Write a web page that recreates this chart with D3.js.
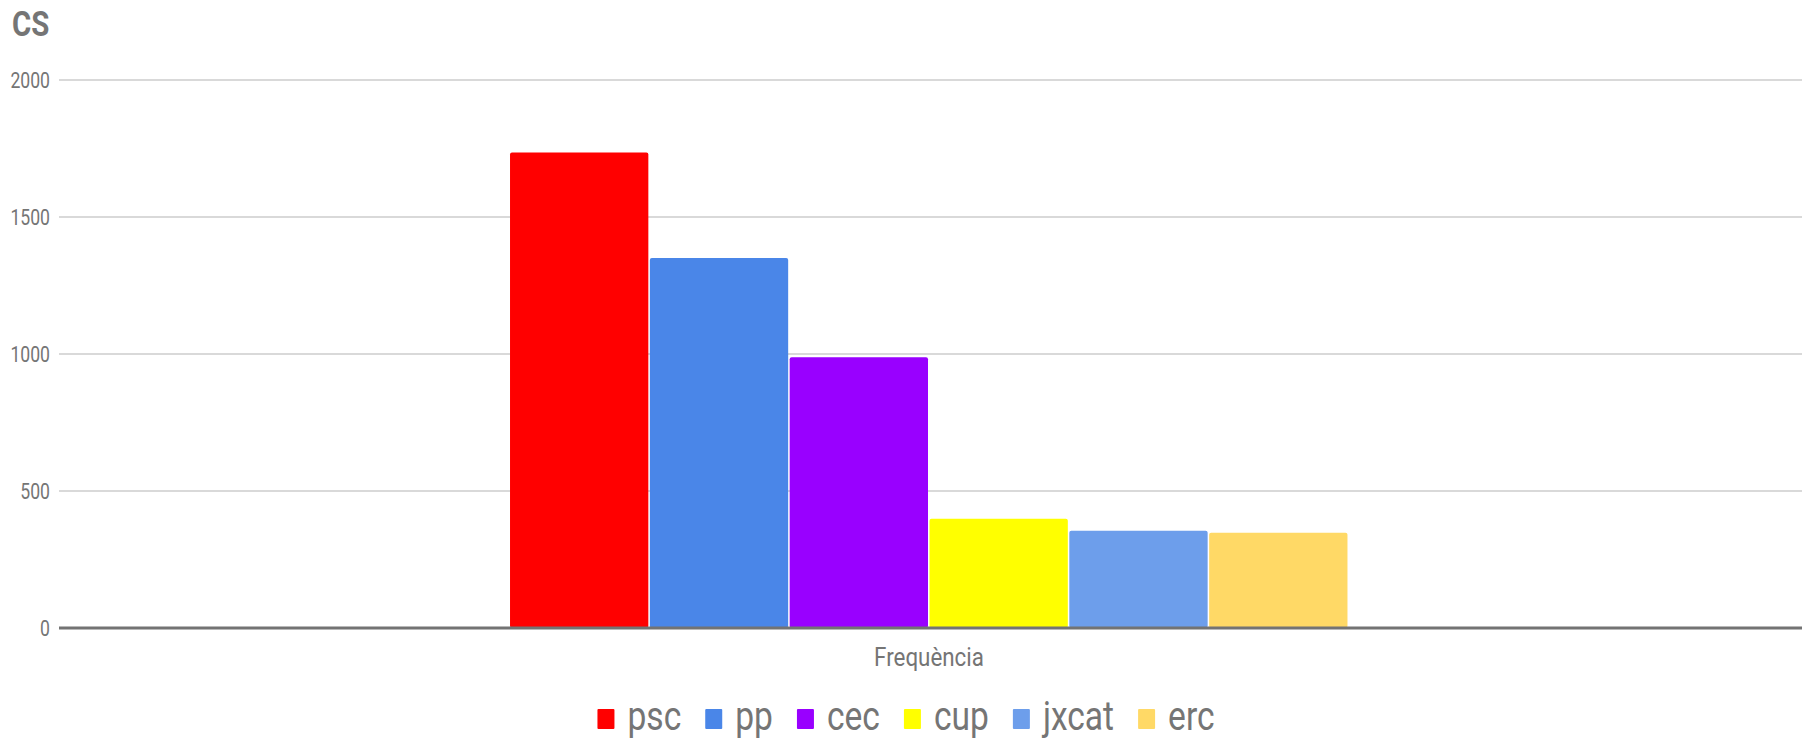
<!DOCTYPE html>
<html>
<head>
<meta charset="utf-8">
<script src="https://cdn.jsdelivr.net/npm/d3@7"></script>
<style>
  html, body { margin: 0; padding: 0; background: #fff; }
  svg { display: block; font-family: Roboto, "Noto Sans", sans-serif; }
</style>
</head>
<body>
<div id="chart"></div>
<script>
// Chart data
const title = "CS";
const categories = ["Frequència"];
const parties = ["psc", "pp", "cec", "cup", "jxcat", "erc"];
const partyValues = [1735, 1350, 988, 399, 355, 348];
const partyColors = ["#ff0000", "#4a86e8", "#9900ff", "#ffff00", "#6d9eeb", "#ffd966"];
const yTicks = [0, 500, 1000, 1500, 2000];

const W = 1802, H = 740;
const margin = { top: 80, right: 3, bottom: 112, left: 59 };

const svg = d3.select("#chart").append("svg")
    .attr("width", W)
    .attr("height", H);

// small helper: squeeze text horizontally like the original render
function squeeze(sel, x, y, sx) {
    sel.attr("transform", `translate(${x},${y}) scale(${sx},1)`);
    return sel;
}

const y = d3.scaleLinear()
    .domain([0, 2000])
    .range([H - margin.bottom, margin.top]);

const x0 = d3.scaleBand()
    .domain(categories)
    .range([margin.left, W - margin.right])
    .paddingInner(0)
    .paddingOuter(0.537);

const x1 = d3.scaleBand()
    .domain(parties)
    .range([0, x0.bandwidth()]);

// gridlines (run to the right edge)
svg.append("g")
    .selectAll("line")
    .data(yTicks.filter(d => d !== 0))
    .enter().append("line")
    .attr("x1", margin.left)
    .attr("x2", W)
    .attr("y1", d => y(d))
    .attr("y2", d => y(d))
    .attr("stroke", "#d9d9d9")
    .attr("stroke-width", 2);

// y tick labels
svg.append("g")
    .selectAll("text")
    .data(yTicks)
    .enter().append("text")
    .each(function(d) {
        squeeze(d3.select(this), 50, y(d) + 8, 0.8);
    })
    .attr("text-anchor", "end")
    .style("font-size", "22px")
    .style("fill", "#757575")
    .text(d => d);

// bars
const group = svg.append("g")
    .selectAll("g")
    .data(categories)
    .enter().append("g")
    .attr("transform", d => `translate(${x0(d)},0)`);

group.selectAll("rect")
    .data(parties.map((p, i) => ({ party: p, value: partyValues[i], color: partyColors[i] })))
    .enter().append("rect")
    .attr("x", d => x1(d.party) + 0.5)
    .attr("y", d => y(d.value))
    .attr("width", x1.bandwidth() - 1.5)
    .attr("height", d => y(0) - y(d.value))
    .attr("rx", 2)
    .attr("fill", d => d.color);

// baseline
svg.append("line")
    .attr("x1", margin.left)
    .attr("x2", W)
    .attr("y1", y(0))
    .attr("y2", y(0))
    .attr("stroke", "#737373")
    .attr("stroke-width", 3);

// category label
svg.append("g")
    .selectAll("text")
    .data(categories)
    .enter().append("text")
    .each(function(d) {
        squeeze(d3.select(this), x0(d) + x0.bandwidth() / 2, 666, 0.86);
    })
    .attr("text-anchor", "middle")
    .style("font-size", "26px")
    .style("fill", "#757575")
    .text(d => d);

// title
squeeze(svg.append("text"), 12, 36, 0.84)
    .style("font-size", "35px")
    .style("font-weight", "bold")
    .style("fill", "#757575")
    .text(title);

// legend
const legend = svg.append("g");
const legendSx = 0.84;
const swatchGap = 13, itemGap = 24;
let cursor = 0;
parties.forEach((p, i) => {
    const item = legend.append("g");
    item.append("rect")
        .attr("x", cursor)
        .attr("y", 709)
        .attr("width", 17)
        .attr("height", 20)
        .attr("rx", 1)
        .attr("fill", partyColors[i]);
    const t = item.append("text")
        .style("font-size", "40px")
        .style("fill", "#757575")
        .text(p);
    squeeze(t, cursor + 17 + swatchGap, 730, legendSx);
    const tw = t.node().getComputedTextLength() * legendSx;
    cursor += 17 + swatchGap + tw + itemGap;
});
const legendWidth = cursor - itemGap;
legend.attr("transform", `translate(${906 - legendWidth / 2},0)`);
</script>
</body>
</html>
